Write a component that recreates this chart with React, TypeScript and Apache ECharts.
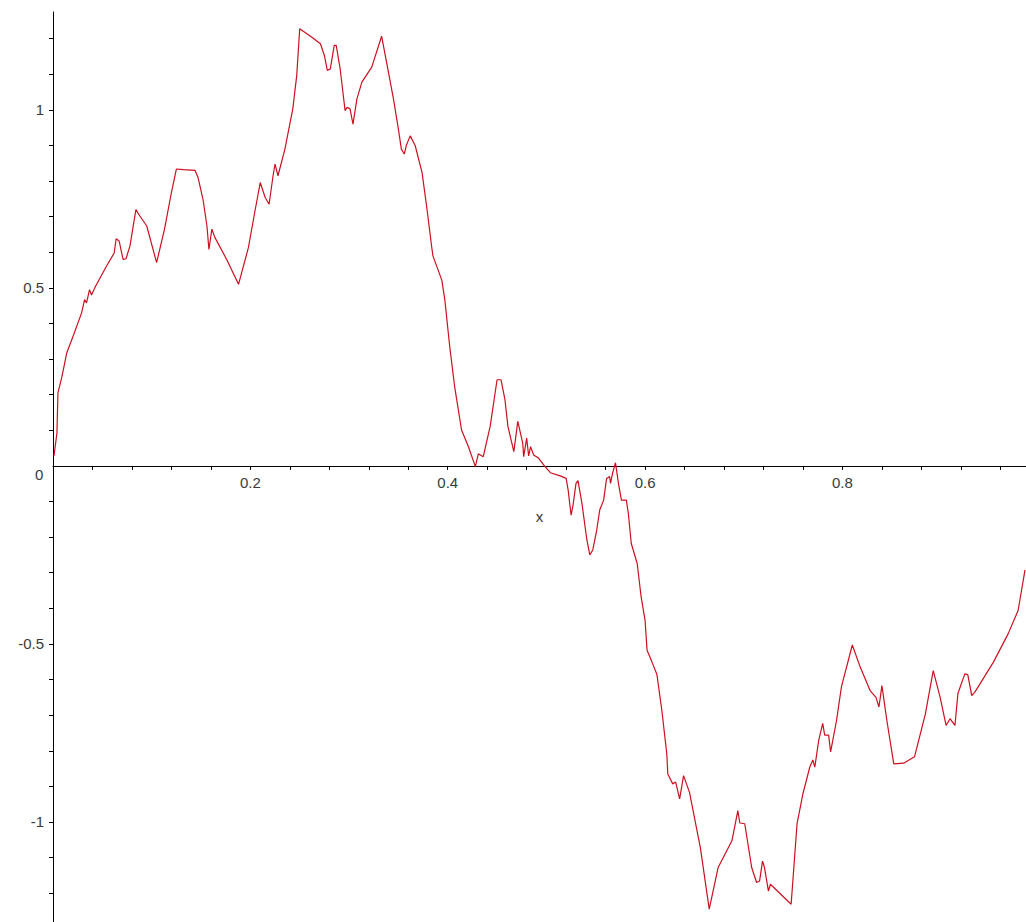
import React, { useEffect, useRef } from "react";
import * as echarts from "echarts";

const xValues = [
  0.001, 0.004, 0.005, 0.009, 0.014, 0.021, 0.029, 0.032, 0.034, 0.037, 0.039, 0.043,
  0.054, 0.062, 0.064, 0.067, 0.071, 0.074, 0.078, 0.084, 0.088, 0.095, 0.105, 0.113,
  0.12, 0.125, 0.132, 0.144, 0.147, 0.152, 0.156, 0.158, 0.161, 0.164, 0.176, 0.188,
  0.198, 0.205, 0.21, 0.215, 0.219, 0.223, 0.225, 0.228, 0.235, 0.243, 0.247, 0.25,
  0.262, 0.271, 0.275, 0.278, 0.281, 0.285, 0.287, 0.291, 0.296, 0.298, 0.301, 0.304,
  0.308, 0.313, 0.323, 0.333, 0.338, 0.345, 0.35, 0.353, 0.356, 0.358, 0.362, 0.367,
  0.374, 0.379, 0.384, 0.385, 0.394, 0.397, 0.402, 0.407, 0.414, 0.421, 0.428, 0.431,
  0.436, 0.443, 0.45, 0.454, 0.458, 0.461, 0.467, 0.471, 0.476, 0.477, 0.48, 0.482,
  0.484, 0.487, 0.492, 0.498, 0.504, 0.514, 0.52, 0.522, 0.525, 0.527, 0.53, 0.532,
  0.536, 0.541, 0.544, 0.547, 0.551, 0.554, 0.558, 0.561, 0.564, 0.565, 0.567, 0.57,
  0.573, 0.576, 0.581, 0.583, 0.586, 0.592, 0.596, 0.6, 0.602, 0.607, 0.612, 0.617,
  0.622, 0.623, 0.628, 0.631, 0.635, 0.639, 0.645, 0.656, 0.665, 0.674, 0.688, 0.694,
  0.696, 0.701, 0.708, 0.713, 0.716, 0.719, 0.721, 0.725, 0.727, 0.748, 0.752, 0.754,
  0.76, 0.767, 0.77, 0.772, 0.776, 0.78, 0.782, 0.786, 0.788, 0.794, 0.799, 0.81,
  0.818, 0.828, 0.834, 0.837, 0.84, 0.845, 0.852, 0.862, 0.873, 0.884, 0.892, 0.899,
  0.905, 0.909, 0.914, 0.917, 0.924, 0.927, 0.931, 0.934, 0.953, 0.968, 0.978, 0.985,
];

const yValues = [
  0.028, 0.093, 0.205, 0.25, 0.318, 0.369, 0.43, 0.467, 0.458, 0.495, 0.48, 0.504,
  0.56, 0.598, 0.638, 0.632, 0.58, 0.582, 0.618, 0.72, 0.702, 0.674, 0.571, 0.665,
  0.768, 0.834, 0.832, 0.83, 0.81, 0.749, 0.674, 0.608, 0.665, 0.642, 0.58, 0.51,
  0.613, 0.721, 0.796, 0.754, 0.735, 0.815, 0.848, 0.815, 0.89, 1.003, 1.097, 1.228,
  1.205, 1.186, 1.153, 1.111, 1.115, 1.181, 1.181, 1.115, 0.998, 1.007, 1.003, 0.96,
  1.031, 1.078, 1.12, 1.207, 1.134, 1.031, 0.946, 0.89, 0.876, 0.9, 0.927, 0.9,
  0.824, 0.721, 0.61, 0.59, 0.522, 0.468, 0.336, 0.223, 0.101, 0.054, -0.002, 0.034,
  0.026, 0.111, 0.242, 0.242, 0.186, 0.111, 0.04, 0.125, 0.064, 0.026, 0.078, 0.028,
  0.054, 0.031, 0.022, 0.0, -0.019, -0.028, -0.035, -0.067, -0.138, -0.11, -0.049, -0.041,
  -0.105, -0.208, -0.25, -0.236, -0.18, -0.124, -0.096, -0.035, -0.03, -0.049, -0.021, 0.009,
  -0.049, -0.096, -0.096, -0.133, -0.218, -0.274, -0.368, -0.434, -0.518, -0.551, -0.586, -0.687,
  -0.809, -0.865, -0.893, -0.888, -0.935, -0.87, -0.917, -1.072, -1.245, -1.128, -1.053, -0.968,
  -1.003, -1.005, -1.128, -1.17, -1.166, -1.11, -1.128, -1.194, -1.175, -1.231, -1.08, -1.005,
  -0.92, -0.845, -0.826, -0.846, -0.77, -0.723, -0.756, -0.756, -0.803, -0.715, -0.62, -0.503,
  -0.565, -0.631, -0.65, -0.677, -0.617, -0.715, -0.837, -0.835, -0.817, -0.697, -0.575, -0.65,
  -0.729, -0.71, -0.729, -0.639, -0.584, -0.586, -0.645, -0.636, -0.551, -0.471, -0.406, -0.292,
];

const xTickValues = [
  0.04, 0.08, 0.12, 0.16, 0.2, 0.24, 0.28, 0.32, 0.36, 0.4, 0.44, 0.48,
  0.52, 0.56, 0.6, 0.64, 0.68, 0.72, 0.76, 0.8, 0.84, 0.88, 0.92, 0.96,
];
const xLabelValues = [0.2, 0.4, 0.6, 0.8];
const yTickValues = [
  -1.2, -1.1, -1.0, -0.9, -0.8, -0.7, -0.6, -0.5, -0.4, -0.3, -0.2, -0.1,
  0.1, 0.2, 0.3, 0.4, 0.5, 0.6, 0.7, 0.8, 0.9, 1.0, 1.1, 1.2,
];
const yLabelValues = [-1, -0.5, 0.5, 1];
const originLabel = "0";
const xName = "x";

const X_MIN = 0;
const X_MAX = 0.986;
const Y_MIN = -1.281;
const Y_MAX = 1.275;

const GRID_LEFT = 53;
const GRID_TOP = 12;
const GRID_H = 910;

export default function App() {
  const ref = useRef<HTMLDivElement>(null);
  useEffect(() => {
    if (!ref.current) return;
    const chart = echarts.init(ref.current, undefined, { renderer: "svg" });
    const data = xValues.map((x, i) => [x, yValues[i]]);
    const font = "'Liberation Sans', Arial, sans-serif";
    const textColor = "#3a3a3a";
    // distance from grid bottom up to the y = 0 line
    const zeroOffset = (GRID_H * (0 - Y_MIN)) / (Y_MAX - Y_MIN);
    chart.setOption({
      animation: false,
      backgroundColor: "#ffffff",
      grid: {
        left: GRID_LEFT,
        right: 0,
        top: GRID_TOP,
        height: GRID_H,
        containLabel: false,
        outerBoundsMode: "none",
      },
      xAxis: {
        type: "value",
        position: "bottom",
        offset: -zeroOffset,
        min: X_MIN,
        max: X_MAX,
        name: xName,
        nameLocation: "middle",
        nameGap: 43,
        nameTextStyle: { color: textColor, fontSize: 15, fontFamily: font },
        axisLine: { show: true, onZero: false, lineStyle: { color: "#000", width: 1 } },
        axisTick: {
          show: true,
          inside: false,
          length: 4,
          customValues: xTickValues,
          lineStyle: { color: "#000", width: 1 },
        },
        axisLabel: {
          show: true,
          customValues: xLabelValues,
          margin: 9,
          color: textColor,
          fontSize: 15,
          fontFamily: font,
          formatter: (v: number) => String(v),
        },
        splitLine: { show: false },
      },
      yAxis: {
        type: "value",
        min: Y_MIN,
        max: Y_MAX,
        axisLine: { show: true, onZero: false, lineStyle: { color: "#000", width: 1 } },
        axisTick: {
          show: true,
          inside: false,
          length: 4,
          customValues: yTickValues,
          lineStyle: { color: "#000", width: 1 },
        },
        axisLabel: {
          show: true,
          customValues: yLabelValues,
          margin: 9,
          color: textColor,
          fontSize: 15,
          fontFamily: font,
          formatter: (v: number) => String(v),
        },
        splitLine: { show: false },
      },
      graphic: [
        {
          type: "text",
          left: 35,
          top: 467,
          style: { text: originLabel, fill: textColor, fontSize: 15, fontFamily: font },
        },
      ],
      series: [
        {
          type: "line",
          data,
          showSymbol: false,
          symbol: "none",
          lineStyle: { color: "#cc1020", width: 1.2 },
          clip: true,
        },
      ],
    });
    return () => chart.dispose();
  }, []);
  return (
    <div
      ref={ref}
      style={{ position: "fixed", left: 0, top: 0, width: 1026, height: 922, background: "#fff" }}
    />
  );
}
